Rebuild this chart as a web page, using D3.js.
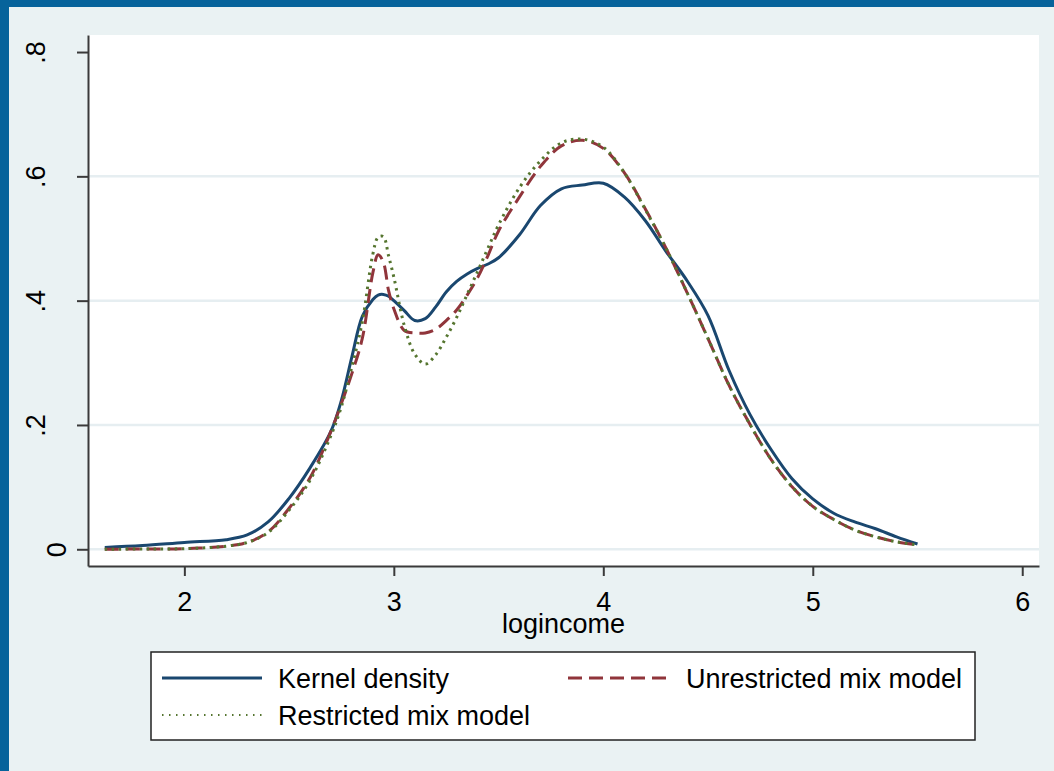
<!DOCTYPE html>
<html>
<head>
<meta charset="utf-8">
<script src="https://cdn.jsdelivr.net/npm/d3@7"></script>
<style>
  html, body { margin: 0; padding: 0; background: #eaf2f3; }
  svg { display: block; }
  text { font-family: "Liberation Sans", Arial, Helvetica, sans-serif; fill: #000; }
</style>
</head>
<body>
<svg id="chart" width="1054" height="771"></svg>
<script>
// ---- data ----
const xs = [1.62, 1.8, 2.0, 2.2, 2.3, 2.4, 2.5, 2.6, 2.7, 2.75, 2.8, 2.85, 2.9, 2.925, 2.95, 2.975,
            3.0, 3.05, 3.1, 3.15, 3.2, 3.25, 3.3, 3.35, 3.4, 3.45, 3.5, 3.6, 3.7, 3.8, 3.9, 4.0, 4.1, 4.2,
            4.3, 4.4, 4.5, 4.6, 4.7, 4.8, 4.9, 5.0, 5.1, 5.2, 5.3, 5.4, 5.5];

const kernelDensity = [0.003, 0.006, 0.011, 0.0155, 0.023, 0.044, 0.082, 0.131, 0.19, 0.24, 0.31, 0.375, 0.402, 0.409, 0.410, 0.407,
            0.400, 0.384, 0.368, 0.371, 0.390, 0.414, 0.431, 0.443, 0.452, 0.459, 0.469, 0.506, 0.553, 0.580, 0.586, 0.589, 0.567, 0.529,
            0.479, 0.432, 0.376, 0.288, 0.217, 0.161, 0.114, 0.081, 0.058, 0.044, 0.033, 0.020, 0.0085];

const unrestrictedMix = [0.000, 0.0005, 0.001, 0.005, 0.011, 0.028, 0.066, 0.115, 0.19, 0.235, 0.283, 0.34, 0.445, 0.474, 0.462, 0.416,
            0.387, 0.352, 0.348, 0.348, 0.354, 0.368, 0.385, 0.409, 0.437, 0.473, 0.512, 0.567, 0.616, 0.649, 0.658, 0.645, 0.606, 0.548,
            0.484, 0.413, 0.339, 0.264, 0.201, 0.145, 0.101, 0.069, 0.048, 0.031, 0.020, 0.012, 0.007];

const restrictedMix = [0.000, 0.0005, 0.001, 0.005, 0.011, 0.027, 0.063, 0.111, 0.183, 0.230, 0.294, 0.367, 0.475, 0.502, 0.503, 0.472,
            0.438, 0.360, 0.314, 0.298, 0.313, 0.341, 0.373, 0.410, 0.447, 0.485, 0.522, 0.582, 0.625, 0.654, 0.660, 0.647, 0.606, 0.547,
            0.484, 0.413, 0.339, 0.264, 0.201, 0.145, 0.101, 0.069, 0.048, 0.031, 0.020, 0.012, 0.007];

const xTicks = [2, 3, 4, 5, 6];
const yTicks = [0, 0.2, 0.4, 0.6, 0.8];
const yTickLabels = ["0", ".2", ".4", ".6", ".8"];
const gridValues = [0, 0.2, 0.4, 0.6];
const xTitle = "logincome";
const seriesNames = ["Kernel density", "Unrestricted mix model", "Restricted mix model"];

// ---- layout ----
const W = 1054, H = 771;
const plot = { left: 88, right: 1039, top: 35, bottom: 566 };
const svg = d3.select("#chart");

// outer frame
svg.append("rect").attr("x", 0).attr("y", 0).attr("width", W).attr("height", H).attr("fill", "#06639b");
svg.append("rect").attr("x", 9).attr("y", 7).attr("width", W - 9).attr("height", H - 7).attr("fill", "#eaf2f3");

// plot region
svg.append("rect").attr("x", plot.left).attr("y", plot.top)
  .attr("width", plot.right - plot.left).attr("height", plot.bottom - plot.top).attr("fill", "#ffffff");

const x = d3.scaleLinear().domain([1.54, 6.08]).range([plot.left, plot.right]);
const y = d3.scaleLinear().domain([-0.0269, 0.8274]).range([plot.bottom, plot.top]);

// grid
svg.append("g").selectAll("line").data(gridValues).join("line")
  .attr("x1", plot.left).attr("x2", plot.right)
  .attr("y1", d => y(d)).attr("y2", d => y(d))
  .attr("stroke", "#e6eef1").attr("stroke-width", 2.5);

// series lines
const line = d3.line().x((d, i) => x(xs[i])).y(d => y(d)).curve(d3.curveCatmullRom.alpha(0.5));
const styles = [
  { data: kernelDensity, color: "#1a476f", width: 3, dash: null },
  { data: unrestrictedMix, color: "#90353b", width: 3, dash: "14,7" },
  { data: restrictedMix, color: "#55752f", width: 3, dash: "2.5,4.5" }
];
styles.forEach(s => {
  svg.append("path").datum(s.data).attr("d", line)
    .attr("fill", "none").attr("stroke", s.color).attr("stroke-width", s.width)
    .attr("stroke-dasharray", s.dash).attr("stroke-linejoin", "round");
});

// axes
const axisColor = "#3a3a3a";
const gx = svg.append("g").attr("transform", `translate(0,${plot.bottom})`)
  .call(d3.axisBottom(x).tickValues(xTicks).tickFormat(d3.format("d")).tickSize(10).tickSizeOuter(0));
gx.select(".domain").attr("stroke", axisColor).attr("stroke-width", 2);
gx.selectAll(".tick line").attr("stroke", axisColor).attr("stroke-width", 2);
gx.selectAll(".tick text").attr("y", 45).attr("dy", 0)
  .style("font-size", "27px").style("font-family", '"Liberation Sans", Arial, sans-serif').attr("fill", "#000");

const gy = svg.append("g").attr("transform", `translate(${plot.left},0)`)
  .call(d3.axisLeft(y).tickValues(yTicks).tickFormat((d, i) => yTickLabels[i]).tickSize(11).tickSizeOuter(0));
gy.select(".domain").attr("stroke", axisColor).attr("stroke-width", 2);
gy.selectAll(".tick line").attr("stroke", axisColor).attr("stroke-width", 2);
gy.selectAll(".tick text")
  .attr("x", null).attr("dy", null)
  .attr("text-anchor", "middle")
  .attr("transform", d => d === 0 ? "translate(-22,0) rotate(-90)" : "translate(-43,0) rotate(-90)")
  .style("font-size", "27px").style("font-family", '"Liberation Sans", Arial, sans-serif').attr("fill", "#000");

// axis title
svg.append("text").attr("x", (plot.left + plot.right) / 2).attr("y", 633)
  .attr("text-anchor", "middle").style("font-size", "27px").text(xTitle);

// legend
const lg = svg.append("g");
lg.append("rect").attr("x", 151).attr("y", 652).attr("width", 824).attr("height", 88)
  .attr("fill", "#ffffff").attr("stroke", "#222").attr("stroke-width", 1.5);
const legendPos = [
  { sx: 162, tx: 278, y: 678 },
  { sx: 568, tx: 686, y: 678 },
  { sx: 162, tx: 278, y: 715 }
];
styles.forEach((s, i) => {
  const p = legendPos[i];
  lg.append("line").attr("x1", p.sx).attr("x2", p.sx + 100).attr("y1", p.y).attr("y2", p.y)
    .attr("stroke", s.color).attr("stroke-width", i === 2 ? 2 : s.width)
    .attr("stroke-dasharray", i === 2 ? "1.5,5.5" : s.dash);
  lg.append("text").attr("x", p.tx).attr("y", p.y + 10).style("font-size", "27px").text(seriesNames[i]);
});
</script>
</body>
</html>
